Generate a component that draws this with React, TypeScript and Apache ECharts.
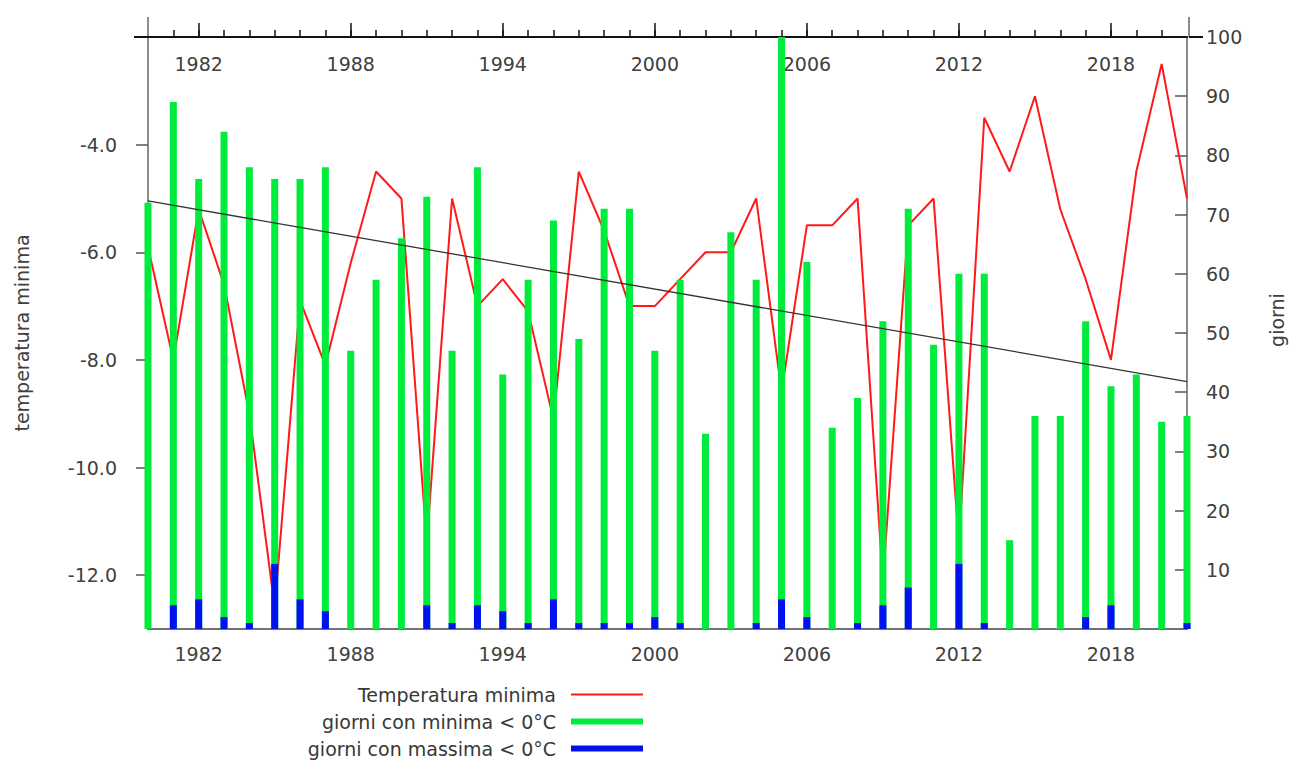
import React, { useEffect, useRef } from "react";
import * as echarts from "echarts";

const years = [
  1980, 1981, 1982, 1983, 1984, 1985, 1986, 1987, 1988, 1989,
  1990, 1991, 1992, 1993, 1994, 1995, 1996, 1997, 1998, 1999,
  2000, 2001, 2002, 2003, 2004, 2005, 2006, 2007, 2008, 2009,
  2010, 2011, 2012, 2013, 2014, 2015, 2016, 2017, 2018, 2019,
  2020, 2021,
];

// Temperatura minima (°C)
const tempMin = [
  -5.9, -8.0, -5.2, -6.6, -9.0, -12.6, -6.9, -8.1, -6.2, -4.5,
  -5.0, -11.4, -5.0, -7.0, -6.5, -7.1, -9.1, -4.5, -5.6, -7.0,
  -7.0, -6.5, -6.0, -6.0, -5.0, -8.6, -5.5, -5.5, -5.0, -12.1,
  -5.5, -5.0, -11.4, -3.5, -4.5, -3.1, -5.2, -6.5, -8.0, -4.5,
  -2.5, -5.0,
];

// giorni con minima < 0°C
const giorniMinima = [
  72, 89, 76, 84, 78, 76, 76, 78, 47, 59,
  66, 73, 47, 78, 43, 59, 69, 49, 71, 71,
  47, 59, 33, 67, 59, 100, 62, 34, 39, 52,
  71, 48, 60, 60, 15, 36, 36, 52, 41, 43,
  35, 36,
];

// giorni con massima < 0°C
const giorniMassima = [
  0, 4, 5, 2, 1, 11, 5, 3, 0, 0,
  0, 4, 1, 4, 3, 1, 5, 1, 1, 1,
  2, 1, 0, 0, 1, 5, 2, 0, 1, 4,
  7, 0, 11, 1, 0, 0, 0, 2, 4, 0,
  0, 1,
];

// trend line of giorni con minima < 0°C (end points)
const trendYears = [1980, 2021];
const trendGiorni = [72.3, 41.8];

const yearLabels = [1982, 1988, 1994, 2000, 2006, 2012, 2018];
const minorYears = years.slice(1, years.length - 1);
const tempTicks = [-12, -10, -8, -6, -4];
const giorniTicks = [10, 20, 30, 40, 50, 60, 70, 80, 90];
const giorniLabels = [10, 20, 30, 40, 50, 60, 70, 80, 90, 100];

const FONT = "DejaVu Sans";
const FS = 19;
const TXT = "#404040";
const RED = "#ff1a1a";
const GREEN = "#00ec3c";
const BLUE = "#0010ee";

export default function App() {
  const ref = useRef<HTMLDivElement>(null);

  useEffect(() => {
    if (!ref.current) return;
    const chart = echarts.init(ref.current, null, { renderer: "svg" });

    const legendBase = {
      orient: "horizontal",
      align: "right",
      itemWidth: 72,
      padding: 0,
      selectedMode: false,
      textStyle: { fontFamily: FONT, fontSize: FS, color: "#383838", padding: [0, 10, 0, 0] },
    };

    chart.setOption({
      animation: false,
      backgroundColor: "#ffffff",
      grid: { left: 148, right: 105, top: 37, bottom: 131, containLabel: false },
      legend: [
        { ...legendBase, right: 651, top: 685, itemHeight: 2,
          data: [{ name: "Temperatura minima", icon: "rect" }] },
        { ...legendBase, right: 651, top: 712, itemHeight: 6,
          data: [{ name: "giorni con minima < 0°C", icon: "rect" }] },
        { ...legendBase, right: 651, top: 739, itemHeight: 6,
          data: [{ name: "giorni con massima < 0°C", icon: "rect" }] },
      ],
      xAxis: [
        {
          type: "value", position: "bottom", min: 1980, max: 2021,
          axisLine: { show: true, lineStyle: { color: "#444", width: 1.5 } },
          axisTick: { show: false },
          splitLine: { show: false },
          axisLabel: {
            customValues: yearLabels, formatter: (v: number) => String(v),
            margin: 15, fontSize: FS, fontFamily: FONT, color: TXT,
          },
        },
        {
          type: "value", position: "top", min: 1980, max: 2021,
          axisLine: { show: true, lineStyle: { color: "#111", width: 2 } },
          axisTick: { show: true, customValues: yearLabels, length: 14, inside: false,
            lineStyle: { color: "#111", width: 1.5 } },
          splitLine: { show: false },
          axisLabel: {
            inside: true, customValues: yearLabels, formatter: (v: number) => String(v),
            margin: 17, fontSize: FS, fontFamily: FONT, color: TXT,
          },
        },
        {
          type: "value", position: "top", min: 1980, max: 2021,
          axisLine: { show: false },
          axisTick: { show: true, customValues: minorYears, length: 7, inside: false,
            lineStyle: { color: "#111", width: 1.5 } },
          splitLine: { show: false },
          axisLabel: { show: false },
        },
      ],
      yAxis: [
        {
          type: "value", position: "left", min: -13, max: -2,
          name: "temperatura minima", nameLocation: "middle", nameRotate: 90, nameGap: 117,
          nameTextStyle: { fontFamily: FONT, fontSize: FS, color: TXT },
          axisLine: { show: true, lineStyle: { color: "#666", width: 1.5 } },
          axisTick: { show: true, customValues: tempTicks, length: 12, inside: false,
            lineStyle: { color: "#555", width: 1.5 } },
          splitLine: { show: false },
          axisLabel: {
            customValues: tempTicks, formatter: (v: number) => v.toFixed(1),
            margin: 31, fontSize: FS, fontFamily: FONT, color: TXT,
          },
        },
        {
          type: "value", position: "right", min: 0, max: 100,
          name: "giorni", nameLocation: "middle", nameRotate: 90, nameGap: 80,
          nameTextStyle: { fontFamily: FONT, fontSize: FS, color: TXT, padding: [0, 0, 0, 26] },
          axisLine: { show: true, lineStyle: { color: "#666", width: 1.5 } },
          axisTick: { show: true, customValues: giorniTicks, length: 12, inside: true,
            lineStyle: { color: "#555", width: 1.5 } },
          splitLine: { show: false },
          axisLabel: {
            customValues: giorniLabels, formatter: (v: number) => String(v),
            margin: 19, fontSize: FS, fontFamily: FONT, color: TXT,
          },
        },
      ],
      graphic: [
        { type: "line", shape: { x1: 148, y1: 17, x2: 148, y2: 37 }, style: { stroke: "#666", lineWidth: 1.5 } },
        { type: "line", shape: { x1: 1189, y1: 17, x2: 1189, y2: 37 }, style: { stroke: "#666", lineWidth: 1.5 } },
        { type: "line", shape: { x1: 134, y1: 37, x2: 148, y2: 37 }, style: { stroke: "#111", lineWidth: 2 } },
        { type: "line", shape: { x1: 1189, y1: 37, x2: 1203, y2: 37 }, style: { stroke: "#111", lineWidth: 2 } },
      ],
      series: [
        {
          name: "Temperatura minima", type: "line", xAxisIndex: 0, yAxisIndex: 0,
          data: years.map((y, i) => [y, tempMin[i]]),
          symbol: "none", color: RED, lineStyle: { color: RED, width: 2 }, z: 1,
        },
        {
          name: "giorni con minima < 0°C", type: "bar", xAxisIndex: 0, yAxisIndex: 1,
          data: years.map((y, i) => [y, giorniMinima[i]]),
          barWidth: 7, barGap: "-100%", color: GREEN, itemStyle: { color: GREEN }, z: 2, clip: false,
        },
        {
          name: "giorni con massima < 0°C", type: "bar", xAxisIndex: 0, yAxisIndex: 1,
          data: years.map((y, i) => [y, giorniMassima[i]]),
          barWidth: 7, barGap: "-100%", color: BLUE, itemStyle: { color: BLUE }, z: 3, clip: false,
        },
        {
          name: "trend", type: "line", xAxisIndex: 0, yAxisIndex: 1,
          data: trendYears.map((y, i) => [y, trendGiorni[i]]),
          symbol: "none", lineStyle: { color: "#333", width: 1.3 }, z: 4, silent: true,
        },
      ],
    });

    return () => chart.dispose();
  }, []);

  return (
    <div
      ref={ref}
      style={{ position: "fixed", left: 0, top: 0, width: 1294, height: 760, background: "#fff" }}
    />
  );
}
